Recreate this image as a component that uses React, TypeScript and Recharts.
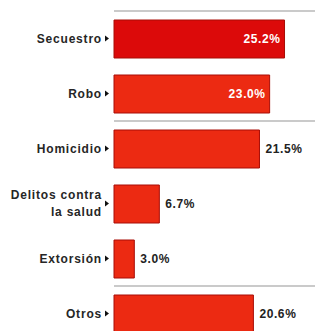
import { BarChart, Bar, XAxis, YAxis, CartesianGrid, Cell, LabelList } from 'recharts'

const categories = ['Secuestro', 'Robo', 'Homicidio', 'Delitos contra la salud', 'Extorsión', 'Otros']
const shares = [25.2, 23.0, 21.5, 6.7, 3.0, 20.6]
const fills = ['#dc0a0a', '#ec2a12', '#ec2a12', '#ec2a12', '#ec2a12', '#ec2a12']

const data = categories.map((name, i) => ({ name, value: shares[i] }))

const FONT = '"Liberation Sans", Arial, sans-serif'

function wrap(label: string) {
  const words = label.split(' ')
  if (words.length <= 2) return [label]
  return [words.slice(0, 2).join(' '), words.slice(2).join(' ')]
}

function CategoryTick(props: any) {
  const { x, y, payload } = props
  const lines = wrap(String(payload.value))
  const lh = 17
  const startY = y - ((lines.length - 1) * lh) / 2
  return (
    <g>
      {lines.map((line, i) => (
        <text
          key={i}
          x={x - 4}
          y={startY + i * lh}
          dy={4}
          textAnchor="end"
          fontFamily={FONT}
          fontSize={12}
          fontWeight={700}
          letterSpacing={0.8}
          fill="#262626"
        >
          {line}
        </text>
      ))}
      <path d={`M${x - 1},${y - 3} L${x + 3},${y} L${x - 1},${y + 3} Z`} fill="#111" />
    </g>
  )
}

function ValueLabel(props: any) {
  const { x, y, width, height, value } = props
  const inside = value >= 23
  const text = `${value.toFixed(1)}%`
  return (
    <text
      x={inside ? x + width - 4 : x + width + 6}
      y={y + height / 2}
      dy={4}
      textAnchor={inside ? 'end' : 'start'}
      fontFamily={FONT}
      fontSize={12}
      fontWeight={700}
      letterSpacing={0.6}
      fill={inside ? '#fff' : '#222'}
    >
      {text}
    </text>
  )
}

export default function App() {
  return (
    <div
      style={{
        position: 'absolute',
        left: 0,
        top: 0,
        width: 315,
        height: 331,
        overflow: 'hidden',
        background: '#fff',
      }}
    >
      <BarChart
        layout="vertical"
        width={317}
        height={341}
        data={data}
        margin={{ top: 11, right: 0, bottom: 0, left: 0 }}
      >
        <CartesianGrid
          vertical={false}
          stroke="#b8b8b8"
          strokeWidth={1.5}
          horizontalCoordinatesGenerator={({ offset }: any) => [
            offset.top,
            offset.top + (offset.height * 2) / 6,
            offset.top + (offset.height * 5) / 6,
          ]}
        />
        <XAxis type="number" domain={[0, 30]} hide />
        <YAxis
          type="category"
          dataKey="name"
          width={114}
          axisLine={false}
          tickLine={false}
          interval={0}
          tick={<CategoryTick />}
        />
        <Bar dataKey="value" barSize={38} stroke="#a80d06" strokeWidth={1} isAnimationActive={false}>
          {data.map((d, i) => (
            <Cell key={d.name} fill={fills[i]} />
          ))}
          <LabelList dataKey="value" content={<ValueLabel />} />
        </Bar>
      </BarChart>
    </div>
  )
}
